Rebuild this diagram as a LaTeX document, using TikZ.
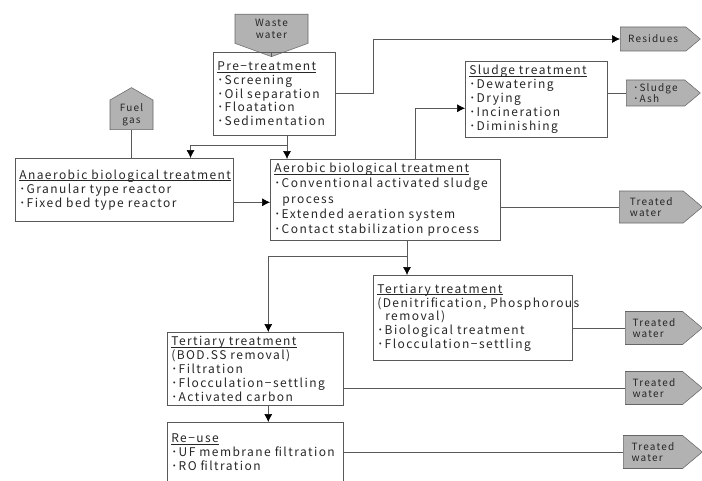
\documentclass[tikz,border=0pt]{standalone}
\usepackage{fontspec}
\setmainfont[LetterSpace=12]{Noto Sans CJK JP}
\usetikzlibrary{arrows.meta,shapes.symbols,positioning}
\newcommand{\headline}[1]{\setbox0=\hbox{#1}\rlap{\rule[-1.4pt]{\wd0}{0.5pt}}\box0}
\tikzset{
	basic/.style  = {draw=black!65, rectangle, thin, align=left, anchor=north west,
		font=\fontsize{9}{10.4}\selectfont, text=black!85, inner xsep=3pt, inner ysep=0pt},
	stage/.style 2 args = {basic, text width=#1, minimum height=#2},
	outlet/.style = {draw=black!60, fill=black!30, thin, signal, signal to=east,
		signal pointer angle=80, align=left, anchor=west, text=black!85,
		font=\fontsize{7.5}{8.6}\selectfont, inner xsep=2pt, inner ysep=0pt},
	inlet/.style  = {outlet, align=center, anchor=center},
	link/.style   = {draw=black!65, thin},
	flow/.style   = {link, -{Latex[length=6pt,width=6pt,color=black]}}
}

\begin{document}
\begin{tikzpicture}[x=0.75pt, y=-0.75pt]
\useasboundingbox (0,0) rectangle (702,481);

% sources
\node[inlet, signal to=south, signal pointer angle=140, minimum width=54.75pt,
	minimum height=27pt, anchor=north] (ww) at (271.5,14) {Waste\\water};
\node[inlet, signal to=north, signal pointer angle=120, minimum width=32.25pt,
	minimum height=28.5pt, anchor=south] (fg) at (131.5,130) {Fuel\\gas};

% treatment stages
\node[stage={85.5pt}{62.25pt}] (pre) at (213,52)
	{\headline{Pre−treatment}\\･Screening\\･Oil separation\\･Floatation\\･Sedimentation};
\node[stage={157.5pt}{47.25pt}] (anaer) at (15,158)
	{\headline{Anaerobic biological treatment}\\･Granular type reactor\\･Fixed bed type reactor};
\node[stage={166.5pt}{60.75pt}, font=\fontsize{9}{11.4}\selectfont] (aer) at (270,159)
	{\headline{Aerobic biological treatment}\\･Conventional activated sludge\\\ \ process\\･Extended aeration system\\･Contact stabilization process};
\node[stage={100.5pt}{57pt}] (sludge) at (465,61)
	{\headline{Sludge treatment}\\･Dewatering\\･Drying\\･Incineration\\･Diminishing};
\node[stage={143.25pt}{63.75pt}] (tert1) at (373,275)
	{\headline{Tertiary treatment}\\\mbox{(Denitrification, Phosphorous}\\\ \ removal)\\･Biological treatment\\･Flocculation−settling};
\node[stage={126pt}{54.75pt}] (tert2) at (167,332)
	{\headline{Tertiary treatment}\\(BOD.SS removal)\\･Filtration\\･Flocculation−settling\\･Activated carbon};
\node[stage={126pt}{45pt}] (reuse) at (167,422)
	{\headline{Re−use}\\･UF membrane filtration\\･RO filtration};

% outlets
\node[outlet, minimum width=60pt, minimum height=18pt] (res) at (620,39) {Residues};
\node[outlet, minimum width=55.5pt, minimum height=19.5pt] (ash) at (626,93) {･Sludge\\･Ash};
\node[outlet, minimum width=62.25pt, minimum height=24pt] (tw1) at (619,207) {Treated\\water};
\node[outlet, minimum width=57.75pt, minimum height=24.75pt] (tw2) at (625,328) {Treated\\water};
\node[outlet, minimum width=57.75pt, minimum height=24.75pt] (tw3) at (625,388) {Treated\\water};
\node[outlet, minimum width=59.25pt, minimum height=24.75pt] (tw4) at (623,452) {Treated\\water};

% connectors
\coordinate (split) at (287,145);
\coordinate (fork) at (407,256);
\draw[link] (ww.south) -- (ww.south |- pre.north);
\draw[link] (fg.south) -- (fg.south |- anaer.north);
\draw[link] (split |- pre.south) -- (split);
\draw[flow] (split) -- (split |- aer.north);
\draw[flow] (split) -| ([xshift=-32.25pt]anaer.north east);
\draw[flow] ([yshift=-9.4pt]anaer.east) -- ([yshift=-9.4pt]anaer.east -| aer.west);
\draw[flow] (pre.east) -- ++(38,0) |- (res.west);
\draw[flow] ([xshift=22.5pt]aer.north) |- ([yshift=-6.75pt]sludge.west);
\draw[link] (ash.west -| sludge.east) -- (ash.west);
\draw[link] (tw1.west -| aer.east) -- (tw1.west);
\draw[link] (fork |- aer.south) -- (fork);
\draw[flow] (fork) -- (fork |- tert1.north);
\draw[flow] (fork) -| ([xshift=9.75pt]tert2.north);
\draw[flow] ([xshift=9.75pt]tert2.south) -- ([xshift=9.75pt]reuse.north);
\draw[link] (tw2.west -| tert1.east) -- (tw2.west);
\draw[link] (tw3.west -| tert2.east) -- (tw3.west);
\draw[link] (tw4.west -| reuse.east) -- (tw4.west);

\end{tikzpicture}
\end{document}
